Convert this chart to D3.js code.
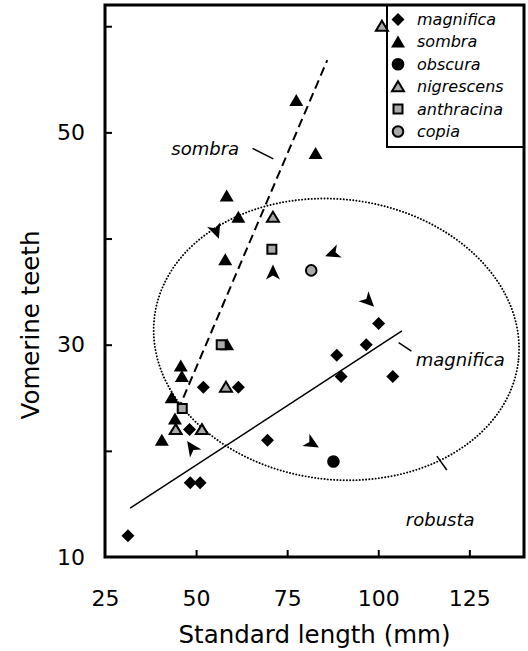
<!DOCTYPE html>
<html><head><meta charset="utf-8">
<script src="https://cdn.jsdelivr.net/npm/d3@7"></script>
<style>body{margin:0;background:#fff}svg{display:block}text{font-family:"DejaVu Sans",Verdana,sans-serif;fill:#000}</style>
</head><body><svg id="c" width="528" height="651"></svg>
<script>
// ---- data ----
const magnifica = [[31.3,12],[52,26],[61.6,26],[48.2,22],[48.4,17],[51.1,17],[69.6,21],[100.1,32],[96.7,30],[88.6,29],[89.8,27],[104,27]];
const sombra = [[77.5,53],[82.8,48],[58.4,44],[61.6,42],[58,38],[58.5,30],[45.8,28],[46.1,27],[43.3,25],[44.2,23],[40.6,21]];
const obscura = [[87.7,19]];
const nigrescens = [[101,60],[71.1,42],[58.2,26],[44.4,22],[51.6,22]];
const anthracina = [[70.8,39],[56.9,30],[46.2,24]];
const copia = [[81.6,37]];
const robusta = [[55.5,40.7],[71.1,36.8],[87.5,38.6],[97.3,34.1],[81.8,20.7],[48.8,20.3]];
const robustaAngle = [160,0,250,135,120,-35];
const magnificaLine = [[31.9,14.6],[106.5,31.3]];
const sombraLine = [[45,23.8],[86,56.8]];
const robustaEllipse = {cx:88.5, cy:30.5, rx:50.3, ry:13.2, angle:7};
const xTicks = [25,50,75,100,125];
const yTicks = [10,20,30,40,50,60];
const yLabels = [10,30,50];
const legendNames = ["magnifica","sombra","obscura","nigrescens","anthracina","copia"];
const annotations = [
  {text:"sombra", x:52.5, y:48.5, line:[[65.5,48.5],[71.2,47.5]]},
  {text:"magnifica", x:122.5, y:28.6, line:[[105.6,30.2],[109.1,29.4]]},
  {text:"robusta", x:117.0, y:13.5, line:[[116.1,19.5],[118.8,18.2]]}
];

// ---- chart ----
const svg = d3.select("#c");
const x = d3.scaleLinear().domain([25,140]).range([105,524]);
const y = d3.scaleLinear().domain([10,62]).range([557,5]);
const GRAY = "#a9a9a9";

// ellipse
const e = robustaEllipse;
svg.append("ellipse")
  .attr("cx", x(e.cx)).attr("cy", y(e.cy))
  .attr("rx", x(e.cx+e.rx)-x(e.cx)).attr("ry", y(e.cy)-y(e.cy+e.ry))
  .attr("transform", `rotate(${e.angle},${x(e.cx)},${y(e.cy)})`)
  .attr("fill","none").attr("stroke","#000").attr("stroke-width",1.9)
  .attr("stroke-dasharray","0.1,3.1").attr("stroke-linecap","round");

const line = d3.line().x(d=>x(d[0])).y(d=>y(d[1]));
svg.append("path").attr("d", line(magnificaLine)).attr("stroke","#000").attr("stroke-width",1.5).attr("fill","none");
svg.append("path").attr("d", line(sombraLine)).attr("stroke","#000").attr("stroke-width",2).attr("stroke-dasharray","9,5").attr("fill","none");

// annotations
annotations.forEach(a=>{
  svg.append("text").attr("x",x(a.x)).attr("y",y(a.y)).attr("text-anchor","middle")
    .attr("dominant-baseline","central").style("font-style","italic").style("font-size","18px").text(a.text);
  svg.append("path").attr("d",line(a.line)).attr("stroke","#000").attr("stroke-width",1.5);
});

// symbols
const shapes = {
  diamond: "M0,-6.5L6.5,0L0,6.5L-6.5,0Z",
  triangle: "M0,-6.5L7,5.5L-7,5.5Z",
  triangleO: "M0,-5.5L6,4.5L-6,4.5Z",
  square: "M-4.5,-4.5H4.5V4.5H-4.5Z",
  arrow: "M0,-8L7,7L0,3L-7,7Z"
};
function drawSym(g, type, px, py){
  if(type==="magnifica") g.append("path").attr("d",shapes.diamond).attr("transform",`translate(${px},${py})`).attr("fill","#000");
  if(type==="sombra") g.append("path").attr("d",shapes.triangle).attr("transform",`translate(${px},${py})`).attr("fill","#000");
  if(type==="obscura") g.append("circle").attr("cx",px).attr("cy",py).attr("r",6.3).attr("fill","#000");
  if(type==="nigrescens") g.append("path").attr("d",shapes.triangleO).attr("transform",`translate(${px},${py})`).attr("fill",GRAY).attr("stroke","#000").attr("stroke-width",2).attr("stroke-linejoin","miter");
  if(type==="anthracina") g.append("path").attr("d",shapes.square).attr("transform",`translate(${px},${py})`).attr("fill",GRAY).attr("stroke","#000").attr("stroke-width",2);
  if(type==="copia") g.append("circle").attr("cx",px).attr("cy",py).attr("r",5.3).attr("fill",GRAY).attr("stroke","#000").attr("stroke-width",2);
}

// axes
const xa = svg.append("g").attr("transform","translate(0,557)")
  .call(d3.axisBottom(x).tickValues(xTicks).tickSizeInner(-7).tickSizeOuter(0).tickPadding(33));
const ya = svg.append("g").attr("transform","translate(105,0)")
  .call(d3.axisLeft(y).tickValues(yTicks).tickSizeInner(-7).tickSizeOuter(0).tickPadding(20)
    .tickFormat(d=>yLabels.includes(d)?d:""));
[xa,ya].forEach(a=>{
  a.select(".domain").remove();
  a.selectAll(".tick line").attr("stroke","#000").attr("stroke-width",2);
  a.selectAll(".tick text").style("font-size","22px").style("font-family","DejaVu Sans").attr("fill","#000");
});
xa.selectAll(".tick").filter(d=>d===25).select("line").remove();
ya.selectAll(".tick").filter(d=>d===10).select("line").remove();

// axis titles
svg.append("text").attr("x",(x(25)+x(140))/2).attr("y",643).attr("text-anchor","middle").style("font-size","24.5px").text("Standard length (mm)");
svg.append("text").attr("transform","translate(39,325) rotate(-90)").attr("text-anchor","middle").style("font-size","24.5px").text("Vomerine teeth");

// legend
const lg = svg.append("g");
lg.append("rect").attr("x",387).attr("y",y(62)).attr("width",x(140)-387).attr("height",147-y(62))
  .attr("fill","#fff").attr("stroke","#000").attr("stroke-width",2);
legendNames.forEach((n,i)=>{
  const yy = 19.5 + i*22.4;
  drawSym(lg,n,398,yy);
  lg.append("text").attr("x",417).attr("y",yy).attr("dominant-baseline","central")
    .style("font-style","italic").style("font-size","16px").text(n);
});

// points (on top)
const pts = svg.append("g");
robusta.forEach((d,i)=>pts.append("path").attr("d",shapes.arrow)
  .attr("transform",`translate(${x(d[0])},${y(d[1])}) rotate(${robustaAngle[i]})`).attr("fill","#000"));
[["sombra",sombra],["magnifica",magnifica],["obscura",obscura],["nigrescens",nigrescens],["anthracina",anthracina],["copia",copia]]
  .forEach(([n,arr])=>arr.forEach(d=>drawSym(pts,n,x(d[0]),y(d[1]))));

// frame
svg.append("rect").attr("x",x(25)).attr("y",y(62)).attr("width",x(140)-x(25)).attr("height",y(10)-y(62))
  .attr("fill","none").attr("stroke","#000").attr("stroke-width",3);
</script></body></html>
